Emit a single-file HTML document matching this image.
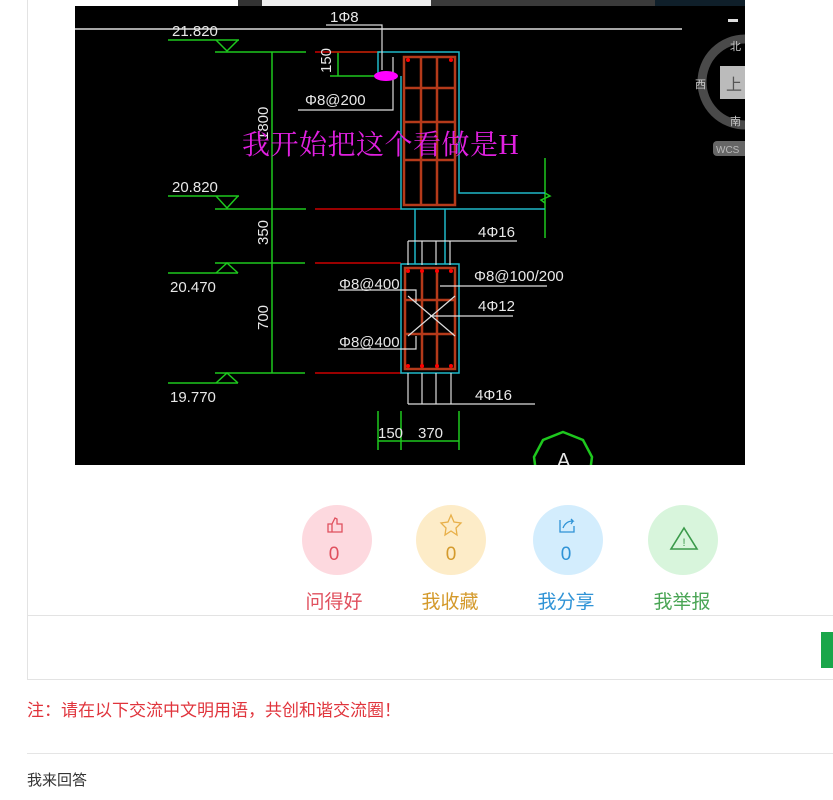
<!DOCTYPE html>
<html><head><meta charset="utf-8"><style>
body{margin:0;width:833px;height:800px;background:#fff;overflow:hidden;position:relative;font-family:"Liberation Sans","Noto Sans CJK SC",sans-serif}
.a{position:absolute}
</style></head><body>
<div class="a" style="left:27px;top:0;width:806px;height:679px;border-left:1px solid #e3e3e3;border-bottom:1px solid #e3e3e3"></div>
<div class="a" style="left:27px;top:615px;width:806px;height:1px;background:#e3e3e3"></div>
<div class="a" style="left:821px;top:632px;width:12px;height:36px;background:#1aa64a"></div>
<svg class="a" style="left:0;top:0" width="833" height="480" font-family="Liberation Sans, Noto Sans CJK SC, sans-serif">
<defs><clipPath id="c"><rect x="75" y="6" width="670" height="459"/></clipPath></defs>
<rect x="238" y="0" width="24" height="6" fill="#333"/>
<rect x="262" y="0" width="169" height="6" fill="#eee"/>
<rect x="431" y="0" width="224" height="6" fill="#3a3a3a"/>
<rect x="655" y="0" width="90" height="6" fill="#0f1f2a"/>
<rect x="75" y="6" width="670" height="459" fill="#000"/>
<g clip-path="url(#c)">
<g fill="none" stroke-width="1.5">
<line x1="75" y1="29" x2="682" y2="29" stroke="#ddd"/>
<g stroke="#1ec81e">
<polyline points="168,40 239,40"/><polyline points="216,40 227,51 238,40"/><line x1="215" y1="52" x2="306" y2="52"/>
<polyline points="168,196 239,196"/><polyline points="216,196 227,208 238,196"/><line x1="215" y1="209" x2="306" y2="209"/>
<line x1="215" y1="263" x2="305" y2="263"/><polyline points="216,273 227,263 238,273"/><line x1="168" y1="273" x2="238" y2="273"/>
<line x1="215" y1="373" x2="305" y2="373"/><polyline points="216,383 227,373 238,383"/><line x1="168" y1="383" x2="238" y2="383"/>
<line x1="272" y1="52" x2="272" y2="373"/>
<line x1="338" y1="52" x2="338" y2="76"/><line x1="330" y1="76" x2="380" y2="76"/><line x1="330" y1="52" x2="380" y2="52"/>
<line x1="545" y1="158" x2="545" y2="238"/><polyline points="545,193 550,196 541,200 545,203"/>
<line x1="378" y1="411" x2="378" y2="450"/><line x1="401" y1="411" x2="401" y2="450"/><line x1="459" y1="411" x2="459" y2="450"/><line x1="378" y1="441" x2="459" y2="441"/>
<polygon points="563,432 583,440 592,457 590,472 536,472 534,457 543,440" stroke-width="2.5"/>
</g>
<g stroke="#c00"><line x1="315" y1="52" x2="378" y2="52"/><line x1="315" y1="209" x2="401" y2="209"/><line x1="315" y1="263" x2="401" y2="263"/><line x1="315" y1="373" x2="401" y2="373"/></g>
<g stroke="#1fb8c8">
<polyline points="378,76 378,52 459,52 459,193 545,193"/><polyline points="401,76 401,209 545,209"/>
<line x1="415" y1="209" x2="415" y2="264"/><line x1="445" y1="209" x2="445" y2="264"/>
<rect x="401" y="264" width="58" height="109"/>
</g>
<g stroke="#b53a1a" stroke-width="2.5">
<rect x="404" y="57" width="51" height="148"/><line x1="421" y1="57" x2="421" y2="205"/><line x1="437" y1="57" x2="437" y2="205"/>
<line x1="404" y1="88" x2="455" y2="88"/><line x1="404" y1="122" x2="455" y2="122"/><line x1="404" y1="160" x2="455" y2="160"/>
<rect x="405" y="268" width="50" height="101"/><line x1="422" y1="268" x2="422" y2="369"/><line x1="437" y1="268" x2="437" y2="369"/>
<line x1="405" y1="300" x2="455" y2="300"/><line x1="405" y1="334" x2="455" y2="334"/>
</g>
<g stroke="#ddd" stroke-width="1.2">
<polyline points="326,25 382,25 382,70"/><polyline points="298,110 393,110 393,57"/>
<line x1="408" y1="241" x2="517" y2="241"/>
<line x1="408" y1="241" x2="408" y2="265"/><line x1="422" y1="241" x2="422" y2="265"/><line x1="436" y1="241" x2="436" y2="265"/><line x1="450" y1="241" x2="450" y2="265"/>
<line x1="440" y1="286" x2="547" y2="286"/><line x1="430" y1="316" x2="513" y2="316"/>
<polyline points="338,290 416,290 416,302"/><polyline points="338,349 416,349 416,336"/>
<line x1="408" y1="296" x2="455" y2="336"/><line x1="455" y1="296" x2="408" y2="336"/>
<line x1="408" y1="373" x2="408" y2="404"/><line x1="422" y1="373" x2="422" y2="404"/><line x1="436" y1="373" x2="436" y2="404"/><line x1="451" y1="373" x2="451" y2="404"/>
<line x1="408" y1="404" x2="535" y2="404"/>
</g>
</g>
<g fill="#f00"><circle cx="408" cy="60" r="2"/><circle cx="451" cy="60" r="2"/><circle cx="408" cy="271" r="2"/><circle cx="422" cy="271" r="2"/><circle cx="437" cy="271" r="2"/><circle cx="451" cy="271" r="2"/><circle cx="408" cy="366" r="2"/><circle cx="422" cy="366" r="2"/><circle cx="437" cy="366" r="2"/><circle cx="451" cy="366" r="2"/></g>
<ellipse cx="386" cy="76" rx="12" ry="5" fill="#f0f"/>
<g fill="#e8e8e8" font-size="15">
<text x="172" y="36">21.820</text><text x="172" y="192">20.820</text><text x="170" y="292">20.470</text><text x="170" y="402">19.770</text>
<text x="330" y="22">1Φ8</text><text x="305" y="105">Φ8@200</text>
<text x="478" y="237">4Φ16</text><text x="474" y="281">Φ8@100/200</text><text x="478" y="311">4Φ12</text>
<text x="339" y="289">Φ8@400</text><text x="339" y="347">Φ8@400</text><text x="475" y="400">4Φ16</text>
<text x="378" y="438">150</text><text x="418" y="438">370</text>
<text x="268" y="245" transform="rotate(-90 268 245)">350</text>
<text x="268" y="330" transform="rotate(-90 268 330)">700</text>
<text x="268" y="140" transform="rotate(-90 268 140)">1800</text>
<text x="331" y="73" transform="rotate(-90 331 73)">150</text>
<text x="557" y="467" font-size="20">A</text>
</g>
<text x="242" y="154" fill="#e020e0" font-size="28" letter-spacing="0.5" font-family="Liberation Serif, Noto Serif CJK SC, serif">我开始把这个看做是H</text>
<circle cx="745" cy="82" r="43" fill="none" stroke="#4a4a4a" stroke-width="9"/>
<rect x="720" y="66" width="25" height="33" fill="#bbb"/>
<text x="726" y="90" font-size="16" fill="#555">上</text>
<g fill="#ccc" font-size="11"><text x="730" y="50">北</text><text x="695" y="88">西</text><text x="730" y="125">南</text></g>
<rect x="728" y="19" width="10" height="3" fill="#ddd"/>
<rect x="713" y="141" width="40" height="15" rx="4" fill="#666"/>
<text x="716" y="153" font-size="10" fill="#bbb">WCS</text>
</g>
<rect x="745" y="0" width="88" height="480" fill="#fff"/>
</svg>
<svg class="a" style="left:0;top:480px" width="833" height="140" font-family="Liberation Sans, Noto Sans CJK SC, sans-serif">
<circle cx="337" cy="60" r="35" fill="#fdd9df"/><circle cx="451" cy="60" r="35" fill="#fdecc8"/><circle cx="568" cy="60" r="35" fill="#d3edfd"/><circle cx="683" cy="60" r="35" fill="#d8f5dc"/>
<g font-size="19" text-anchor="middle"><text x="334" y="80" fill="#e0505e">0</text><text x="451" y="80" fill="#d49a2c">0</text><text x="566" y="80" fill="#2f93d6">0</text></g>
<g fill="none" stroke-width="1.3">
<path d="M328 52v-8h4l3-6 2 1v5h5v8h-14zM332 44v8" stroke="#e0505e"/>
<polygon points="451,35 454,42 461,43 456,48 457,55 451,51 445,55 446,48 441,43 448,42" stroke="#e8b04a"/>
<path d="M560 40v12h14v-6M563 48c2-5 6-7 10-7l-2-2M573 41l-2 3" stroke="#2f93d6"/>
<polygon points="684,48 697,69 671,69" stroke="#3a9a4a" stroke-width="1.6"/>
</g>
<text x="684" y="66" font-size="11" fill="#3a9a4a" text-anchor="middle">!</text>
<g font-size="19" text-anchor="middle"><text x="334" y="128" fill="#e0505e">问得好</text><text x="450" y="128" fill="#d49a2c">我收藏</text><text x="566" y="128" fill="#2f93d6">我分享</text><text x="682" y="128" fill="#4aa555">我举报</text></g>
</svg>
<div class="a" style="left:27px;top:700px;font-size:17px;color:#e0343c;line-height:22px">注：请在以下交流中文明用语，共创和谐交流圈！</div>
<div class="a" style="left:27px;top:753px;width:806px;height:1px;background:#e5e5e5"></div>
<div class="a" style="left:27px;top:771px;font-size:15px;color:#333;line-height:20px">我来回答</div>
</body></html>
